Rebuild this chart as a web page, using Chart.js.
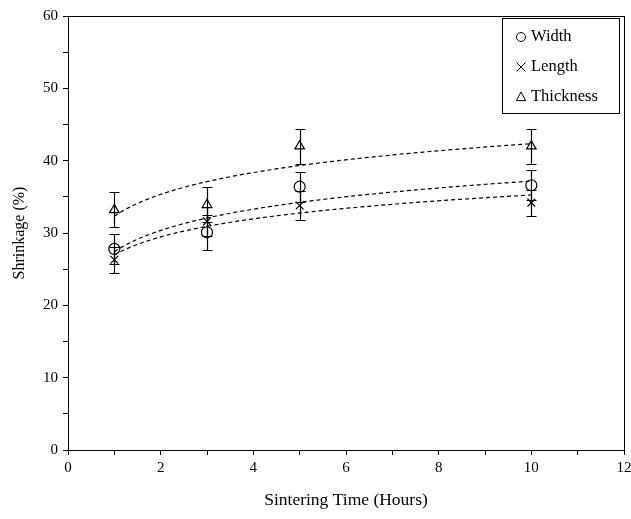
<!DOCTYPE html>
<html>
<head>
<meta charset="utf-8">
<script src="https://cdn.jsdelivr.net/npm/chart.js@4.4.0/dist/chart.umd.min.js"></script>
<style>
  html, body { margin: 0; padding: 0; background: #fff; }
  #wrap { width: 631px; height: 519px; }
</style>
</head>
<body>
<div id="wrap"><canvas id="Chart1" width="631" height="519"></canvas></div>
<script>
// sintering time (hours)
var hours = [1, 3, 5, 10];

// shrinkage (%) and error bars
var width_vals = [27.8, 30.1, 36.4, 36.6];
var width_err = [2.1, 2.4, 2.1, 2.1];
var length_vals = [26.3, 31.6, 33.8, 34.2];
var length_err = [1.8, 2.0, 2.0, 1.8];
var thick_vals = [33.2, 33.9, 42.0, 42.0];
var thick_err = [2.4, 2.4, 2.4, 2.4];

var series_labels = ["Width", "Length", "Thickness"];
var point_styles = ["circle", "crossRot", "triangle"];

var x_ticks = [0, 2, 4, 6, 8, 10, 12];
var y_ticks = [0, 10, 20, 30, 40, 50, 60];

var FONT = "'Liberation Serif', 'Times New Roman', serif";

function toPoints(xs, ys) {
    var out = [];
    for (var i = 0; i < xs.length; i++) out.push({x: xs[i], y: ys[i]});
    return out;
}

// least squares fit y = a*ln(x) + b, like the spreadsheet trendline
function logFit(xs, ys) {
    var n = xs.length, sx = 0, sy = 0, sxx = 0, sxy = 0;
    for (var i = 0; i < n; i++) {
        var l = Math.log(xs[i]);
        sx += l; sy += ys[i]; sxx += l * l; sxy += l * ys[i];
    }
    var a = (n * sxy - sx * sy) / (n * sxx - sx * sx);
    var b = (sy - a * sx) / n;
    return {a: a, b: b};
}

function drawMarker(ctx, style, x, y, r) {
    ctx.beginPath();
    if (style === "circle") {
        ctx.arc(x, y, r, 0, Math.PI * 2);
    } else if (style === "crossRot") {
        ctx.moveTo(x - r, y - r); ctx.lineTo(x + r, y + r);
        ctx.moveTo(x + r, y - r); ctx.lineTo(x - r, y + r);
    } else {
        ctx.moveTo(x, y - r * 1.1);
        ctx.lineTo(x + r * 1.05, y + r * 0.8);
        ctx.lineTo(x - r * 1.05, y + r * 0.8);
        ctx.closePath();
    }
    ctx.stroke();
}

var extrasPlugin = {
    id: 'extras',
    beforeDatasetsDraw: function (chart) {
        var ctx = chart.ctx, xs = chart.scales.x, ys = chart.scales.y;
        ctx.save();
        ctx.strokeStyle = '#000';
        ctx.lineWidth = 1.2;
        // error bars
        chart.data.datasets.forEach(function (ds) {
            ds.data.forEach(function (p, i) {
                var e = ds.errors[i];
                var px = Math.round(xs.getPixelForValue(p.x)) + 0.5;
                var top = Math.round(ys.getPixelForValue(p.y + e)) + 0.5;
                var bot = Math.round(ys.getPixelForValue(p.y - e)) + 0.5;
                ctx.beginPath();
                ctx.moveTo(px, top); ctx.lineTo(px, bot);
                ctx.moveTo(px - 5, top); ctx.lineTo(px + 5, top);
                ctx.moveTo(px - 5, bot); ctx.lineTo(px + 5, bot);
                ctx.stroke();
            });
        });
        // dashed log trendlines
        ctx.setLineDash([4, 3]);
        chart.data.datasets.forEach(function (ds) {
            var xv = ds.data.map(function (p) { return p.x; });
            var yv = ds.data.map(function (p) { return p.y; });
            var f = logFit(xv, yv);
            var x0 = xv[0], x1 = xv[xv.length - 1];
            ctx.beginPath();
            for (var k = 0; k <= 120; k++) {
                var t = x0 + (x1 - x0) * k / 120;
                var px = xs.getPixelForValue(t);
                var py = ys.getPixelForValue(f.a * Math.log(t) + f.b);
                if (k === 0) ctx.moveTo(px, py); else ctx.lineTo(px, py);
            }
            ctx.stroke();
        });
        ctx.restore();
    },
    afterDraw: function (chart) {
        var ctx = chart.ctx, a = chart.chartArea;
        ctx.save();
        ctx.strokeStyle = '#000';
        ctx.lineWidth = 1;
        ctx.setLineDash([]);
        // frame
        ctx.strokeRect(Math.round(a.left) + 0.5, Math.round(a.top) + 0.5,
            Math.round(a.right - a.left), Math.round(a.bottom - a.top));
        // legend box
        var bx = Math.round(a.right) - 122, by = Math.round(a.top) + 2;
        ctx.strokeRect(bx + 0.5, by + 0.5, 117, 95);
        ctx.fillStyle = '#000';
        ctx.font = "16.5px " + FONT;
        ctx.textBaseline = 'middle';
        ctx.textAlign = 'left';
        chart.data.datasets.forEach(function (ds, i) {
            var cy = by + 19 + i * 30;
            drawMarker(ctx, ds.pointStyle, bx + 19, cy, 4.5);
            ctx.fillText(ds.label, bx + 29, cy);
        });
        ctx.restore();
    }
};

$ready = function () {
    var ctx = document.getElementById("Chart1").getContext('2d');
    var sets = [
        [width_vals, width_err],
        [length_vals, length_err],
        [thick_vals, thick_err]
    ];
    var datasets = sets.map(function (s, i) {
        return {
            label: series_labels[i],
            data: toPoints(hours, s[0]),
            errors: s[1],
            pointStyle: point_styles[i],
            pointRadius: 5.5,
            pointBorderWidth: 1.2,
            pointBorderColor: '#000',
            pointBackgroundColor: 'rgba(0,0,0,0)',
            showLine: false
        };
    });

    new Chart(ctx, {
        type: 'scatter',
        data: { datasets: datasets },
        options: {
            responsive: false,
            animation: false,
            devicePixelRatio: 1,
            layout: { padding: { top: 16, right: 7, left: 0, bottom: 0 } },
            plugins: { legend: { display: false }, tooltip: { enabled: false } },
            scales: {
                x: {
                    type: 'linear', min: 0, max: 12,
                    afterBuildTicks: function (s) {
                        var t = [];
                        for (var v = 0; v <= 12; v++) t.push({value: v});
                        s.ticks = t;
                    },
                    ticks: {
                        color: '#000', padding: 4, maxRotation: 0, autoSkip: false,
                        font: { family: FONT, size: 15 },
                        callback: function (v) { return x_ticks.indexOf(v) >= 0 ? String(v) : ''; }
                    },
                    grid: { drawOnChartArea: false, drawTicks: true, tickLength: 5, color: '#000' },
                    border: { display: true, color: '#000', width: 1 },
                    title: { display: true, text: 'Sintering Time (Hours)', color: '#000',
                        font: { family: FONT, size: 17.5 }, padding: { top: 7, bottom: 8 } },
                    afterFit: function (s) { s.height = 69; s.paddingLeft = 0; s.paddingRight = 0; }
                },
                y: {
                    type: 'linear', min: 0, max: 60,
                    afterBuildTicks: function (s) {
                        var t = [];
                        for (var v = 0; v <= 60; v += 5) t.push({value: v});
                        s.ticks = t;
                    },
                    ticks: {
                        color: '#000', padding: 5, autoSkip: false,
                        font: { family: FONT, size: 15 },
                        callback: function (v) { return y_ticks.indexOf(v) >= 0 ? String(v) : ''; }
                    },
                    grid: { drawOnChartArea: false, drawTicks: true, tickLength: 5, color: '#000' },
                    border: { display: true, color: '#000', width: 1 },
                    title: { display: true, text: 'Shrinkage (%)', color: '#000',
                        font: { family: FONT, size: 16 }, padding: { top: 10, bottom: 2 } },
                    afterFit: function (s) { s.width = 68; s.paddingTop = 0; s.paddingBottom = 0; }
                }
            }
        },
        plugins: [extrasPlugin]
    });
};
$ready();
</script>
</body>
</html>
